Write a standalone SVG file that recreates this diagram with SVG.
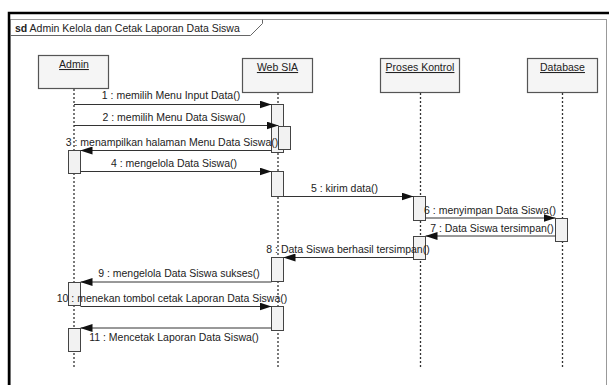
<svg xmlns="http://www.w3.org/2000/svg" width="609" height="385" viewBox="0 0 609 385">
<defs>
<style>
text{font-family:"Liberation Sans",Arial,sans-serif;font-size:10.5px;fill:#222}
.lbl{text-anchor:middle}
.obj{fill:#f5f5f5;stroke:#555;stroke-width:1.2}
.act{fill:#f2f2f2;stroke:#444;stroke-width:1}
.life{stroke:#333;stroke-width:1.3;stroke-dasharray:2 2;fill:none}
.msg{stroke:#333;stroke-width:1;fill:none;marker-end:url(#ah)}
.name{text-anchor:middle;text-decoration:underline;font-size:10.5px}
</style>
<marker id="ah" viewBox="0 0 12 8" refX="12" refY="4" markerWidth="12" markerHeight="8" markerUnits="userSpaceOnUse" orient="auto">
<path d="M0,0 L12,4 L0,8 Z" fill="#111"/>
</marker>
</defs>
<rect width="609" height="385" fill="#fff"/>
<g id="frame">
<rect x="10.5" y="19.5" width="596" height="380" fill="none" stroke="#999" stroke-width="1"/>
<path d="M9,400 L9,13 L609,13" fill="none" stroke="#000" stroke-width="2.5"/>
<path d="M10.5,35.5 L250.5,35.5 L262.5,23.5 L262.5,19.5" fill="none" stroke="#666" stroke-width="1"/>
<text x="15" y="32"><tspan font-weight="bold">sd</tspan> Admin Kelola dan Cetak Laporan Data Siswa</text>
</g>
<g id="admin">
<rect class="obj" x="38.5" y="55.5" width="70" height="33"/>
<text class="name" x="74" y="68">Admin</text>
<line class="life" x1="74" y1="89" x2="74" y2="367"/>
</g>
<g id="websia">
<rect class="obj" x="242.5" y="58.5" width="70" height="34"/>
<text class="name" x="277.5" y="71">Web SIA</text>
<line class="life" x1="278" y1="93" x2="278" y2="368"/>
</g>
<g id="proses">
<rect class="obj" x="380.5" y="58.5" width="79" height="34"/>
<text class="name" x="420" y="71">Proses Kontrol</text>
<line class="life" x1="420.5" y1="93" x2="420.5" y2="368"/>
</g>
<g id="database">
<rect class="obj" x="527.5" y="58.5" width="70" height="34"/>
<text class="name" x="562.5" y="71">Database</text>
<line class="life" x1="562.5" y1="93" x2="562.5" y2="368"/>
</g>
<g id="activations">
<rect class="act" x="271.5" y="104.5" width="12" height="48"/>
<rect class="act" x="278.5" y="126.5" width="12" height="23"/>
<rect class="act" x="68.5" y="150.5" width="12" height="23"/>
<rect class="act" x="271.5" y="171.5" width="12" height="25"/>
<rect class="act" x="413.5" y="196.5" width="12" height="24"/>
<rect class="act" x="555.5" y="218.5" width="12" height="23"/>
<rect class="act" x="413.5" y="236.5" width="12" height="23"/>
<rect class="act" x="271.5" y="257.5" width="12" height="24"/>
<rect class="act" x="68.5" y="282.5" width="12" height="23"/>
<rect class="act" x="271.5" y="306.5" width="12" height="24"/>
<rect class="act" x="68.5" y="328.5" width="12" height="23"/>
</g>
<g id="connectors">
<line class="msg" x1="74" y1="104.5" x2="271.5" y2="104.5"/>
<line class="msg" x1="74" y1="125.5" x2="278.5" y2="125.5"/>
<line class="msg" x1="271.5" y1="150.5" x2="80.5" y2="150.5"/>
<line class="msg" x1="80.5" y1="171.5" x2="271.5" y2="171.5"/>
<line class="msg" x1="283.5" y1="196.5" x2="413.5" y2="196.5"/>
<line class="msg" x1="425.5" y1="218" x2="555.5" y2="218"/>
<line class="msg" x1="555.5" y1="236" x2="425.5" y2="236"/>
<line class="msg" x1="413.5" y1="257.5" x2="283.5" y2="257.5"/>
<line class="msg" x1="271.5" y1="282" x2="80.5" y2="282"/>
<line class="msg" x1="80.5" y1="306.5" x2="271.5" y2="306.5"/>
<line class="msg" x1="271.5" y1="328" x2="80.5" y2="328"/>
</g>
<g id="labels">
<text class="lbl" x="171" y="99">1 : memilih Menu Input Data()</text>
<text class="lbl" x="174" y="120.5">2 : memilih Menu Data Siswa()</text>
<text class="lbl" x="172" y="146">3 : menampilkan halaman Menu Data Siswa()</text>
<text class="lbl" x="174" y="167">4 : mengelola Data Siswa()</text>
<text class="lbl" x="344.5" y="192">5 : kirim data()</text>
<text class="lbl" x="490" y="213.5">6 : menyimpan Data Siswa()</text>
<text class="lbl" x="492" y="232">7 : Data Siswa tersimpan()</text>
<text class="lbl" x="348" y="253">8 : Data Siswa berhasil tersimpan()</text>
<text class="lbl" x="179" y="277">9 : mengelola Data Siswa sukses()</text>
<text class="lbl" x="172" y="302">10 : menekan tombol cetak Laporan Data Siswa()</text>
<text class="lbl" x="174" y="341">11 : Mencetak Laporan Data Siswa()</text>
</g>
</svg>
